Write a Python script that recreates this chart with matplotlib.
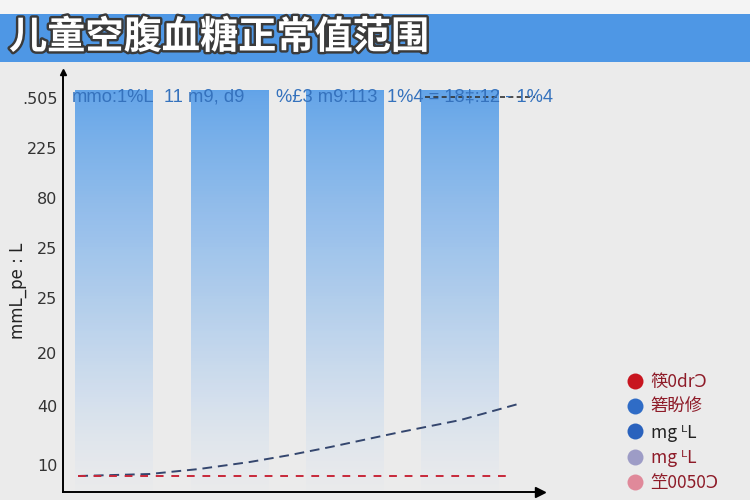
import matplotlib
matplotlib.use("Agg")
import matplotlib.pyplot as plt
import matplotlib.patheffects as pe
from matplotlib.lines import Line2D
from matplotlib.patches import Rectangle
import numpy as np

plt.rcParams["font.family"] = ["Noto Sans CJK SC", "DejaVu Sans"]

# ---- data ----
title = "儿童空腹血糖正常值范围"
bar_pos = [0, 1, 2, 3]
bar_values = [402, 402, 402, 402]
bar_labels = ["mmo:1%L", "11 m9, d9", "%£3 m9:113", "1%4 = 18‡:12 - 1%4"]
label_x = [-0.365, 0.43, 1.41, 2.37]

ytick_pos = [394, 344, 294, 244, 194, 139, 86, 27]
ytick_labels = [".505", "225", "80", "25", "25", "20", "40", "10"]
ylabel = "mmL_pe : L"

curve_x = [-0.31, 0.31, 0.74, 1.18, 1.53, 1.88, 2.49, 3.01, 3.51]
curve_y = [16, 18, 23, 30, 37, 45, 60, 72, 88]
flat_x = [-0.31, 3.46]
flat_y = [16, 16]
top_dash_x = [2.70, 3.66]
top_dash_y = [395, 395]

legend_labels = ["筷0drƆ", "箬盼修", "mg ᴸL", "mg ᴸL", "笁0050Ɔ"]
legend_colors = ["#c8151f", "#2f6cc6", "#2a62bd", "#9d9cc6", "#e0899a"]
legend_text_colors = ["#8e1b28", "#8e1b28", "#222222", "#8e1b28", "#8e1b28"]

BG = "#ebebeb"
NARROW = ["Liberation Sans", "DejaVu Sans", "Noto Sans CJK SC"]

fig = plt.figure(figsize=(7.5, 5), dpi=100, facecolor=BG)

# header banner
fig.patches.append(Rectangle((0, 1 - 14 / 500), 1, 14 / 500, transform=fig.transFigure,
                             facecolor="#f4f4f4", edgecolor="none", zorder=0))
fig.patches.append(Rectangle((0, 1 - 62 / 500), 1, 48 / 500, transform=fig.transFigure,
                             facecolor="#4e97e5", edgecolor="none", zorder=0))
fig.text(9 / 750, 1 - 37 / 500, title, fontsize=27.5, fontweight="bold", color="white",
         va="center", ha="left",
         path_effects=[pe.withStroke(linewidth=3.5, foreground="#3a3a3a")])

ax = fig.add_axes([63 / 750, 8 / 500, 477 / 750, 420 / 500])
ax.set_facecolor("none")
ax.set_xlim(-0.443, 3.70)
ax.set_ylim(0, 420)

# bars with vertical gradient fading into the background
bars = ax.bar(bar_pos, bar_values, width=0.67, color="none", edgecolor="none")
top_rgb = np.array([0.38, 0.64, 0.91])
bot_rgb = np.array([0.89, 0.91, 0.94])
t = np.linspace(0, 1, 256)[:, None]
w = t ** 0.8
grad = np.zeros((256, 1, 4))
grad[..., :3] = (1 - w)[..., None] * top_rgb + w[..., None] * bot_rgb
grad[..., 3] = 1 - 0.85 * t ** 4
for b in bars:
    x0, y0 = b.get_x(), b.get_y()
    im = ax.imshow(grad, extent=(x0, x0 + b.get_width(), y0, y0 + b.get_height()),
                   aspect="auto", origin="upper", zorder=1, interpolation="bilinear")
    im.set_clip_path(b)

for x, lab in zip(label_x, bar_labels):
    ax.text(x, 395, lab, fontsize=13.2, color="#3572bd", ha="left", va="center", zorder=4,
            family=NARROW)

ax.plot(top_dash_x, top_dash_y, color="#333333", lw=1.2, ls=(0, (3, 2)), zorder=3)
ax.plot(curve_x, curve_y, color="#34466e", lw=1.4, ls=(0, (5, 3)), zorder=3)
ax.plot(flat_x, flat_y, color="#c8283a", lw=1.4, ls=(0, (4, 4)), zorder=3)

# axes with arrows
for s in ["top", "right"]:
    ax.spines[s].set_visible(False)
ax.spines["left"].set_linewidth(1.4)
ax.spines["bottom"].set_linewidth(1.4)
ax.plot(1, 0, ">k", transform=ax.transAxes, clip_on=False, markersize=7)
ax.plot(0, 1, "^k", transform=ax.transAxes, clip_on=False, markersize=5)

ax.set_xticks([])
ax.set_yticks(ytick_pos)
ax.set_yticklabels(ytick_labels, fontsize=11.5, color="#333333", family="DejaVu Sans")
ax.tick_params(axis="y", length=0, pad=4)
ax.set_ylabel(ylabel, fontsize=12, color="#222222", family="DejaVu Sans")
ax.yaxis.set_label_coords(-0.075, 0.48)

handles = [Line2D([0], [0], marker="o", ls="none", markersize=11.5,
                  markerfacecolor=c, markeredgecolor="none") for c in legend_colors]
leg = fig.legend(handles, legend_labels, loc="upper left",
                 bbox_to_anchor=(609 / 750, 1 - 357 / 500), frameon=False,
                 fontsize=12.5, labelspacing=0.43, handletextpad=0.3, handlelength=1.2)
for txt, c in zip(leg.get_texts(), legend_text_colors):
    txt.set_color(c)

fig.savefig("out.png", dpi=100, facecolor=BG)
